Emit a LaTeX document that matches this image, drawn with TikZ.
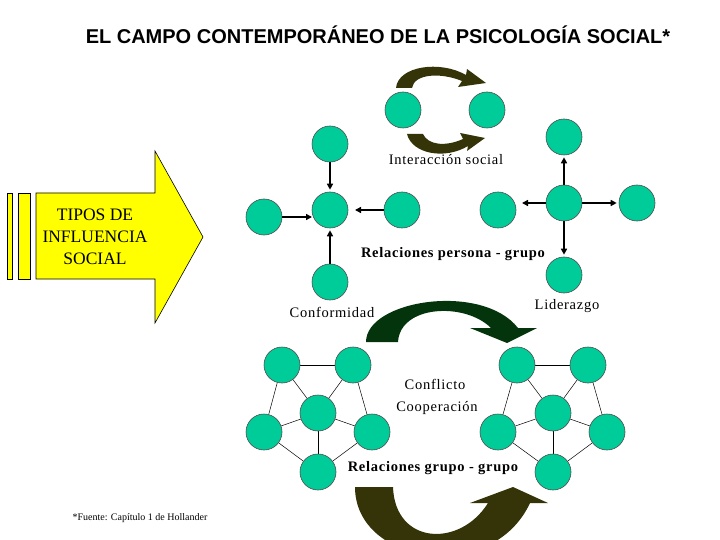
\documentclass[tikz,border=0pt]{standalone}
\usepackage{fontspec}
\setmainfont{Liberation Serif}
\newfontfamily\titlefont{Liberation Sans}
\newfontfamily\spfont[LetterSpace=5]{Liberation Serif}
\usetikzlibrary{arrows.meta,backgrounds}
\definecolor{teal1}{RGB}{0,204,153}
\definecolor{olivedk}{RGB}{52,52,8}
\definecolor{greendk}{RGB}{4,52,12}
\definecolor{yel}{RGB}{255,255,0}
\tikzset{
  pers/.style={circle,draw=black!70,line width=0.6pt,fill=teal1,minimum size=36pt,inner sep=0pt},
  arr/.style={line width=1.6pt,-{Triangle[length=6pt,width=6pt]},shorten >=2pt},
  lnk/.style={line width=0.5pt,black},
  lbl/.style={font=\spfont\fontsize{14.5}{16}\selectfont,inner sep=0pt},
  blbl/.style={font=\spfont\fontsize{14.5}{16}\selectfont\bfseries,inner sep=0pt},
}
\begin{document}
\begin{tikzpicture}[x=1pt,y=-1pt]
\useasboundingbox (0,0) rectangle (720,540);
\clip (0,0) rectangle (720,540);
% title
\node[font=\titlefont\fontsize{20}{24}\selectfont\bfseries,inner sep=0pt] (title) at (378,35) {EL CAMPO CONTEMPORÁNEO DE LA PSICOLOGÍA SOCIAL*};
% yellow arrow
\filldraw[fill=yel,draw=black,line width=0.6pt] (7,193) rectangle (12,279);
\filldraw[fill=yel,draw=black,line width=0.6pt] (18,193) rectangle (30,279);
\filldraw[fill=yel,draw=black,line width=0.6pt] (36,193) -- (155,193) -- (155,151) -- (203,237) -- (155,323) -- (155,279) -- (36,279) -- cycle;
\node[align=center,font=\fontsize{17.5}{22}\selectfont,inner sep=0pt] (tipos) at (95,237) {TIPOS DE\\INFLUENCIA\\SOCIAL};
% interaccion social
\node[pers] (i1) at (403,110) {};
\node[pers] (i2) at (487,110) {};
\fill[olivedk] (396,88) .. controls (398,66) and (440,60) .. (466,75) -- (467,69) -- (486,83) -- (458,87) -- (462,81) .. controls (440,72) and (414,74) .. (412,88) -- cycle;
\fill[olivedk] (407,134) .. controls (412,154) and (445,160) .. (468,146) -- (467,151) -- (485,138) -- (460,133) -- (463,139) .. controls (445,147) and (428,145) .. (423,134) -- cycle;
\node[lbl] (inter) at (446,160) {Interacción social};
% conformidad group
\node[pers] (c0) at (330,210) {};
\node[pers] (ct) at (330,144) {};
\node[pers] (cl) at (264,217) {};
\node[pers] (cr) at (402,210) {};
\node[pers] (cb) at (330,282) {};
\coordinate (cin) at (313,217);
\coordinate (cri) at (355,210);
\draw[arr] (ct) -- (c0);
\draw[arr,shorten >=1pt] (cl.east) -- (cin);
\draw[arr,shorten >=0pt] (cr) -- (cri);
\draw[arr] (cb) -- (c0);
\node[lbl] (conf) at (332,312) {Conformidad};
% liderazgo group
\node[pers] (l0) at (564,203) {};
\node[pers] (lt) at (564,137) {};
\node[pers] (ll) at (498,210) {};
\node[pers] (lr) at (637,203) {};
\node[pers] (lb) at (564,275) {};
\coordinate (lli) at (522,203);
\draw[arr] (l0) -- (lt);
\draw[arr,shorten >=0pt] (l0) -- (lli);
\draw[arr] (l0) -- (lr);
\draw[arr] (l0) -- (lb);
\node[lbl] (lid) at (567,306) {Liderazgo};
\node[blbl] (rpg) at (453,254) {Relaciones persona - grupo};
% middle green arrow
\fill[greendk] (366,342) .. controls (366,300) and (482,282) .. (518,328) -- (537,328) -- (507,343) -- (470,328) -- (491,328) .. controls (465,302) and (400,305) .. (398,342) -- cycle;
% group A
\node[pers] (a1) at (282,365) {};
\node[pers] (a2) at (353,365) {};
\node[pers] (am) at (318,413) {};
\node[pers] (al) at (264,432) {};
\node[pers] (ar) at (372,432) {};
\node[pers] (ab) at (318,472) {};
% group B
\node[pers] (b1) at (517,365) {};
\node[pers] (b2) at (588,365) {};
\node[pers] (bm) at (553,413) {};
\node[pers] (bl) at (498,432) {};
\node[pers] (br) at (607,432) {};
\node[pers] (bb) at (553,472) {};
\begin{scope}[on background layer]
\foreach \g in {a,b}{
  \draw[lnk] (\g1) -- (\g2);
  \draw[lnk] (\g1) -- (\g l);
  \draw[lnk] (\g2) -- (\g r);
  \draw[lnk] (\g1) -- (\g m);
  \draw[lnk] (\g2) -- (\g m);
  \draw[lnk] (\g l) -- (\g m);
  \draw[lnk] (\g r) -- (\g m);
  \draw[lnk] (\g m) -- (\g b);
  \draw[lnk] (\g l) -- (\g b);
  \draw[lnk] (\g r) -- (\g b);
}
\end{scope}
\node[lbl] (confl) at (435,384) {Conflicto};
\node[lbl] (coop) at (437,408) {Cooperación};
\node[blbl] (rgg) at (433,468) {Relaciones grupo - grupo};
% bottom olive arrow
\fill[olivedk] (355,487) .. controls (355,565) and (492,585) .. (530,503) -- (548,503) -- (513,487) -- (470,503) -- (488,503) .. controls (460,548) and (395,545) .. (393,487) -- cycle;
% footnote
\node[font=\fontsize{10}{11}\selectfont,inner sep=0pt] (fuente) at (140,518) {*Fuente: Capítulo 1 de Hollander};
\end{tikzpicture}
\end{document}
